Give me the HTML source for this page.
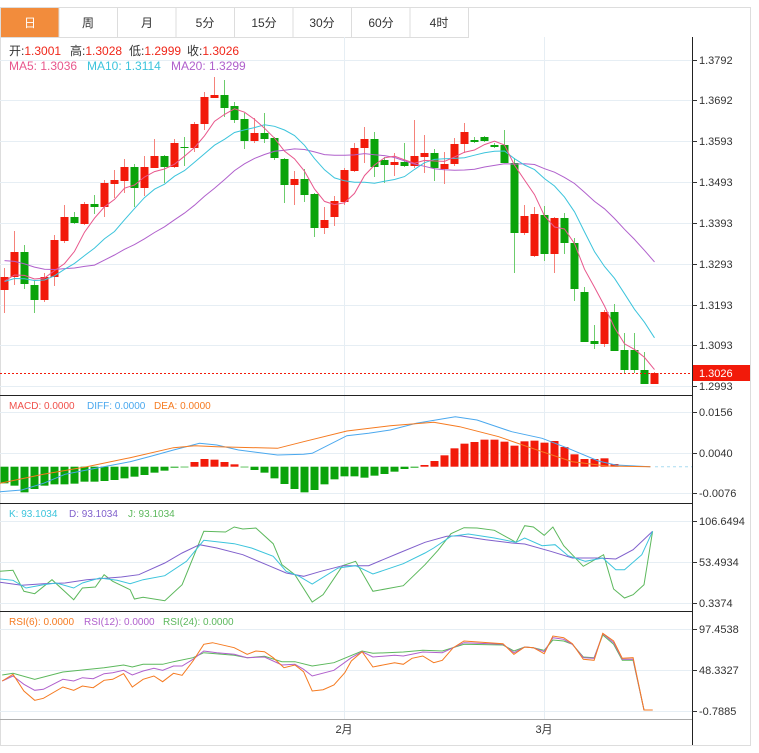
<!DOCTYPE html>
<html><head><meta charset="utf-8"><style>
html,body{margin:0;padding:0;background:#fff;}
body{width:759px;height:753px;overflow:hidden;position:relative;font-family:"Liberation Sans","Noto Sans CJK SC",sans-serif;}
svg{position:absolute;left:0;top:0;}
</style></head><body>
<svg id="s" width="759" height="753" xmlns="http://www.w3.org/2000/svg" font-family="Liberation Sans, Noto Sans CJK SC, sans-serif">
<rect x="0.5" y="7.5" width="750" height="738" fill="none" stroke="#ddd"/>
<rect x="0.5" y="7.5" width="58.5" height="30" fill="#f28c3c" stroke="#ddd"/>
<g fill="none" stroke="#ddd">
<rect x="59" y="7.5" width="58.5" height="30"/><rect x="117.5" y="7.5" width="58.5" height="30"/>
<rect x="176" y="7.5" width="58.5" height="30"/><rect x="234.5" y="7.5" width="58.5" height="30"/>
<rect x="293" y="7.5" width="58.5" height="30"/><rect x="351.5" y="7.5" width="58.5" height="30"/>
<rect x="410" y="7.5" width="58.5" height="30"/>
</g>
<g font-size="12" text-anchor="middle" fill="#333">
<text x="30" y="27" fill="#fff">日</text><text x="88" y="27">周</text><text x="147" y="27">月</text>
<text x="205" y="27">5分</text><text x="264" y="27">15分</text><text x="322" y="27">30分</text>
<text x="381" y="27">60分</text><text x="439" y="27">4时</text>
</g>
<g id="g"></g>
<g font-size="12">
<text x="9" y="55" fill="#333">开:<tspan fill="#f0271a">1.3001</tspan><tspan x="70">高:</tspan><tspan fill="#f0271a">1.3028</tspan><tspan x="129">低:</tspan><tspan fill="#f0271a">1.2999</tspan><tspan x="187">收:</tspan><tspan fill="#f0271a">1.3026</tspan></text>
<text x="9" y="70" fill="#e8578c">MA5: 1.3036<tspan fill="#3cc4dc" x="87">MA10: 1.3114</tspan><tspan fill="#b060cc" x="171">MA20: 1.3299</tspan></text>
<text x="9" y="409" font-size="10" fill="#f0504a">MACD: 0.0000<tspan fill="#4aa8ee" x="87">DIFF: 0.0000</tspan><tspan fill="#f57a20" x="154">DEA: 0.0000</tspan></text>
<text x="9" y="517" font-size="10" fill="#3cc4dc">K: 93.1034<tspan fill="#8060cc" x="69">D: 93.1034</tspan><tspan fill="#5cb85c" x="128">J: 93.1034</tspan></text>
<text x="9" y="625" font-size="10" fill="#f57a20">RSI(6): 0.0000<tspan fill="#b060cc" x="84">RSI(12): 0.0000</tspan><tspan fill="#5cb85c" x="163">RSI(24): 0.0000</tspan></text>
</g>
</svg>
<script>
var NS="http://www.w3.org/2000/svg",G=document.getElementById("g");
function el(t,a){var e=document.createElementNS(NS,t);for(var k in a)e.setAttribute(k,a[k]);G.appendChild(e);return e;}
function tx(x,y,s,a){var e=el("text",Object.assign({x:x,y:y,"font-size":11,fill:"#333"},a||{}));e.textContent=s;}
var hg=[60,100,141,182,223,264,305,345,386,412,453,493,521,562,603,629,670,711];
hg.forEach(function(y){el("line",{x1:0,x2:692,y1:y+.5,y2:y+.5,stroke:"#e6eef4"});});
[344,544].forEach(function(x){el("line",{x1:x+.5,x2:x+.5,y1:37,y2:719,stroke:"#e6eef4"});});
[395,503,611].forEach(function(y){el("line",{x1:0,x2:692,y1:y+.5,y2:y+.5,stroke:"#222"});});
el("line",{x1:0,x2:692,y1:719.5,y2:719.5,stroke:"#aaa"});
el("line",{x1:692.5,x2:692.5,y1:37,y2:745,stroke:"#222"});
var L=[[60,"1.3792"],[100,"1.3692"],[141,"1.3593"],[182,"1.3493"],[223,"1.3393"],[264,"1.3293"],[305,"1.3193"],[345,"1.3093"],[386,"1.2993"],
[412,"0.0156"],[453,"0.0040"],[493,"-0.0076"],[521,"106.6494"],[562,"53.4934"],[603,"0.3374"],[629,"97.4538"],[670,"48.3327"],[711,"-0.7885"]];
L.forEach(function(l){el("line",{x1:692,x2:697,y1:l[0]+.5,y2:l[0]+.5,stroke:"#333"});tx(699,l[0]+4,l[1]);});
tx(344,733,"2月",{"text-anchor":"middle"});tx(544,733,"3月",{"text-anchor":"middle"});
var C=[[277,290,268,313,1],[252,277,231,285,1],[252,284,245,289,0],[285,300,281,313,0],[277,300,273,302,1],[240,277,235,286,1],[217,241,205,243,1],[217,223,212,224,0],[204,224,202,225,1],[204,207,195,214,0],
[183,207,180,217,1],[180,184,170,198,1],[167,181,159,193,1],[167,188,164,207,0],[167,188,156,196,1],[156,168,139,168,1],[156,167,155,183,0],[143,167,139,168,1],[147,148,137,166,0],[124,148,122,152,1],
[97,124,92,130,1],[95,98,77,98,1],[95,108,80,117,0],[106,120,102,123,0],[119,141,113,149,0],[133,141,118,143,1],[133,139,113,143,0],[138,158,137,160,0],[159,185,158,203,0],[179,185,171,205,1],
[179,195,169,202,0],[194,228,193,237,0],[220,228,207,234,1],[201,217,196,226,1],[170,202,168,205,1],[148,171,143,172,1],[139,148,127,163,1],[139,167,132,177,0],[160,165,157,183,0],[162,165,153,176,1],
[162,166,143,167,0],[156,166,120,168,1],[153,157,135,173,1],[153,168,149,181,0],[164,169,152,184,1],[144,164,138,166,1],[132,144,123,153,1],[140,142,137,143,0],[137,141,136,142,0],[145,147,143,148,0],
[145,163,130,163,0],[163,233,158,273,0],[216,233,205,235,1],[214,256,207,257,1],[215,254,206,261,0],[218,254,217,273,1],[218,243,213,254,0],[243,289,238,301,0],[292,342,287,342,0],[341,344,325,349,0],
[312,344,310,347,1],[312,351,304,351,0],[350,370,333,373,0],[350,370,333,373,0],[370,384,352,384,0],[373,384,372,384,1]];
var RED="#f21a0a",GRN="#0aa30a";
var closes=[];
C.forEach(function(c,i){var x=4.5+10*i,col=c[4]?RED:GRN,wc=c[4]?"#f5827a":"#6ccc6c";
el("line",{x1:x,x2:x,y1:c[2],y2:c[3],stroke:wc,"stroke-width":1});
el("rect",{x:x-4,y:c[0],width:8,height:Math.max(1,c[1]-c[0]),fill:col});
closes.push(c[4]?c[0]:c[1]);});
var pad=[];for(var k=0;k<10;k++)pad.push(235);for(k=0;k<10;k++)pad.push(282);
var all=pad.concat(closes);
function ma(n,col){var p=[];for(var i=0;i<closes.length;i++){var s=0;for(var j=0;j<n;j++)s+=all[20+i-j];p.push((4.5+10*i)+","+(s/n).toFixed(1));}
el("polyline",{points:p.join(" "),fill:"none",stroke:col,"stroke-width":1});}
ma(20,"#b060cc");ma(10,"#3cc4dc");ma(5,"#e8578c");
el("line",{x1:0,x2:692,y1:373.5,y2:373.5,stroke:"#f21a0a","stroke-dasharray":"2,2"});
el("rect",{x:693,y:365,width:57,height:16,fill:"#f21a0a"});
tx(699,377,"1.3026",{fill:"#fff"});
var zero=466.7;
var M=[265,272,292,282,272,268,268,266,260,260,258,255,250,245,240,233,227,218,217,201,192,194,201,208,217,225,233,250,267,282,292,285,268,253,244,244,248,242,237,230,222,218,
210,198,181,160,146,141,134,134,140,152,139,137,143,138,156,178,192,192,190,207,214,215,215,215];
M.forEach(function(v,i){var y=395+v/3,x=4.5+10*i;var t=Math.min(y,zero),h=Math.abs(y-zero);if(h<0.5)return;
el("rect",{x:x-4,y:t,width:8,height:h,fill:y>zero?GRN:RED});});
el("line",{x1:655,x2:692,y1:zero,y2:zero,stroke:"#a8dcf0","stroke-dasharray":"3,3"});
function line(pts,y0,col){var p=[];for(var i=0;i<pts.length;i+=2)p.push((pts[i]/2.306).toFixed(1)+","+(y0+pts[i+1]/3).toFixed(1));
el("polyline",{points:p.join(" "),fill:"none",stroke:col,"stroke-width":1});}
line([0,290,50,285,100,265,150,238,200,225,300,200,350,183,400,165,460,145,500,150,550,165,640,180,700,178,720,175,800,122,850,115,900,105,960,85,1050,65,1100,75,1180,110,1250,130,1310,160,1380,198,1420,210,1500,215],395,"#4aa8ee");
line([0,265,100,238,200,215,300,188,400,158,450,152,500,155,640,160,700,140,800,108,900,92,1000,82,1060,95,1150,125,1250,170,1320,200,1400,213,1500,215],395,"#f57a20");
line([0,205,30,202,55,265,80,272,120,230,170,290,190,255,220,252,240,215,260,235,300,260,310,288,330,283,380,293,420,245,470,85,520,87,540,72,560,78,590,75,630,122,650,185,680,215,720,297,745,275,790,188,820,175,860,265,930,248,980,185,1010,142,1040,92,1070,74,1100,75,1140,82,1190,118,1210,68,1230,72,1255,97,1275,72,1300,128,1345,190,1392,155,1415,258,1440,285,1460,275,1485,245,1505,85],503,"#5cb85c");
line([0,238,50,247,100,242,150,240,200,230,280,222,320,215,380,180,420,150,460,125,500,135,560,155,620,188,660,210,700,220,740,205,790,188,850,188,920,150,980,118,1030,100,1060,98,1120,110,1180,120,1210,123,1270,145,1320,165,1380,165,1420,168,1460,140,1505,85],503,"#8060cc");
line([0,228,30,232,60,255,100,245,130,240,170,255,190,240,230,225,270,232,300,242,330,230,380,218,430,175,470,112,540,122,580,135,630,160,660,205,690,220,720,243,780,195,820,188,860,213,930,182,980,150,1000,135,1040,100,1080,93,1140,105,1190,118,1210,105,1250,128,1280,125,1310,158,1350,175,1390,165,1420,200,1440,200,1480,155,1505,85],503,"#3cc4dc");
line([5,192,30,187,80,205,145,183,190,177,240,170,285,162,305,168,330,160,375,160,400,152,445,140,470,125,540,133,570,140,610,136,650,152,680,152,720,165,770,155,835,120,860,127,930,123,975,118,1020,120,1070,100,1160,102,1185,120,1210,108,1230,110,1255,118,1275,87,1300,90,1320,100,1345,138,1370,140,1390,72,1415,100,1435,148,1460,148,1485,297,1505,297],611,"#5cb85c");
line([5,210,30,195,55,220,80,238,100,235,145,205,170,210,190,200,215,203,240,188,260,185,285,178,305,192,330,180,355,172,375,178,400,165,420,165,445,145,470,120,500,125,540,130,570,140,610,138,650,162,680,160,700,175,720,195,770,178,810,140,835,122,860,138,910,133,930,135,975,123,1020,125,1045,110,1070,95,1160,100,1185,125,1210,108,1230,110,1255,122,1275,80,1300,85,1320,100,1345,140,1370,142,1390,68,1415,95,1435,145,1460,145,1485,297,1505,297],611,"#b060cc");
line([5,210,30,190,55,240,80,268,100,262,145,228,170,238,190,225,215,230,240,208,260,205,285,188,305,228,330,205,355,195,375,212,400,187,420,193,445,150,470,100,490,95,540,110,570,130,590,120,610,122,630,140,655,170,680,162,700,182,720,240,745,236,770,222,795,185,810,150,835,122,860,168,910,155,930,160,950,142,975,135,1000,155,1020,148,1045,110,1070,90,1160,98,1185,130,1210,108,1230,110,1255,128,1275,75,1300,80,1320,98,1345,145,1370,148,1390,67,1415,90,1435,142,1460,140,1485,297,1505,297],611,"#f57a20");
</script>
</body></html>
